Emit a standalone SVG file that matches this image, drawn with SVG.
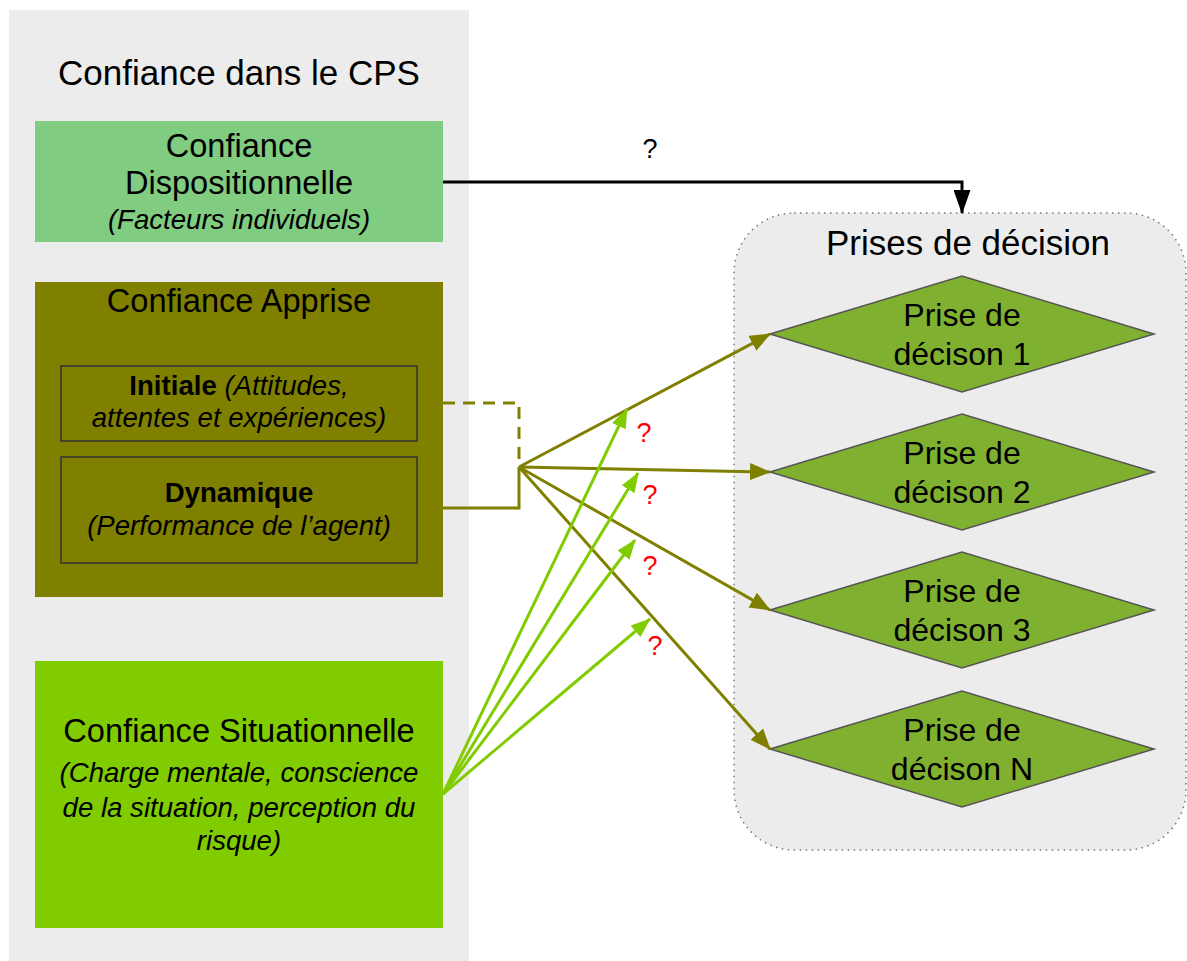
<svg xmlns="http://www.w3.org/2000/svg" width="1187" height="961" viewBox="0 0 1187 961">
<style>
text{font-family:"Liberation Sans",Arial,sans-serif;fill:#000;text-anchor:middle}
.t32{font-size:32px}
.t326{font-size:32.6px}
.t35{font-size:35px}
.it{font-style:italic;font-size:27.6px}
.b{font-weight:bold;font-style:normal}
.q{font-size:27px;fill:#ff0000}
.dia{fill:#7fb030;stroke:#555;stroke-width:1.5}
.olive{stroke:#808000;stroke-width:3;fill:none}
.lime{stroke:#80cc00;stroke-width:3;fill:none}
</style>
<defs>
<marker id="ao" viewBox="0 0 21 17" refX="20" refY="8.5" markerWidth="21" markerHeight="17" markerUnits="userSpaceOnUse" orient="auto"><path d="M0,0 L21,8.5 L0,17 z" fill="#808000"/></marker>
<marker id="ag" viewBox="0 0 20 15" refX="19" refY="7.5" markerWidth="20" markerHeight="15" markerUnits="userSpaceOnUse" orient="auto"><path d="M0,0 L20,7.5 L0,15 z" fill="#80cc00"/></marker>
<marker id="ak" viewBox="0 0 24 17" refX="23" refY="8.5" markerWidth="24" markerHeight="17" markerUnits="userSpaceOnUse" orient="auto"><path d="M0,0 L24,8.5 L0,17 z" fill="#000"/></marker>
</defs>
<g id="panel-cps">
<rect x="9" y="10" width="460" height="951" fill="#ececec"/>
<text class="t35" x="239" y="85">Confiance dans le CPS</text>
</g>
<g id="panel-decision">
<rect x="734" y="213" width="452" height="637" rx="60" ry="60" fill="#ececec" stroke="#777" stroke-width="1.5" stroke-dasharray="1.5 4.5"/>
<text class="t35" x="968" y="255">Prises de décision</text>
</g>
<g id="node-dispositionnelle">
<rect x="35" y="121" width="408" height="121" fill="#80cc80"/>
<text class="t326" x="239" y="157">Confiance</text>
<text class="t326" x="239" y="194">Dispositionnelle</text>
<text class="it" x="239" y="229">(Facteurs individuels)</text>
</g>
<g id="node-apprise">
<rect x="35" y="282" width="408" height="315" fill="#808000"/>
<text class="t326" x="239" y="312">Confiance Apprise</text>
</g>
<g id="node-initiale">
<rect x="61" y="366" width="356" height="75" fill="#808000" stroke="#333" stroke-width="1.5"/>
<text class="it" x="239" y="395"><tspan class="b">Initiale</tspan> (Attitudes,</text>
<text class="it" x="239" y="427">attentes et expériences)</text>
</g>
<g id="node-dynamique">
<rect x="61" y="457" width="356" height="106" fill="#808000" stroke="#333" stroke-width="1.5"/>
<text class="it b" x="239" y="502">Dynamique</text>
<text class="it" x="239" y="535">(Performance de l’agent)</text>
</g>
<g id="node-situationnelle">
<rect x="35" y="661" width="408" height="267" fill="#80cc00"/>
<text class="t326" x="239" y="742">Confiance Situationnelle</text>
<text class="it" x="239" y="782">(Charge mentale, conscience</text>
<text class="it" x="239" y="817">de la situation, perception du</text>
<text class="it" x="239" y="850">risque)</text>
</g>
<g id="node-d1">
<polygon class="dia" points="770,334 962,276 1154,334 962,392"/>
<text class="t32" x="962" y="326">Prise de</text>
<text class="t32" x="962" y="365">décison 1</text>
</g>
<g id="node-d2">
<polygon class="dia" points="770,472 962,414 1154,472 962,530"/>
<text class="t32" x="962" y="464">Prise de</text>
<text class="t32" x="962" y="503">décison 2</text>
</g>
<g id="node-d3">
<polygon class="dia" points="770,610 962,552 1154,610 962,668"/>
<text class="t32" x="962" y="602">Prise de</text>
<text class="t32" x="962" y="641">décison 3</text>
</g>
<g id="node-dn">
<polygon class="dia" points="770,749 962,691 1154,749 962,807"/>
<text class="t32" x="962" y="741">Prise de</text>
<text class="t32" x="962" y="780">décison N</text>
</g>
<g id="connectors">
<path d="M443,182 H962 V213" fill="none" stroke="#000" stroke-width="3" marker-end="url(#ak)"/>
<text x="650" y="158" style="font-size:27px">?</text>
<path class="olive" d="M443,403 H519 V467" stroke-dasharray="12 8"/>
<path class="olive" d="M443,508 H519 V467"/>
<line class="olive" x1="519" y1="467" x2="770" y2="334" marker-end="url(#ao)"/>
<line class="olive" x1="519" y1="467" x2="770" y2="472" marker-end="url(#ao)"/>
<line class="olive" x1="519" y1="467" x2="770" y2="610" marker-end="url(#ao)"/>
<line class="olive" x1="519" y1="467" x2="770" y2="749" marker-end="url(#ao)"/>
<line class="lime" x1="443" y1="794" x2="627" y2="409" marker-end="url(#ag)"/>
<line class="lime" x1="443" y1="794" x2="638" y2="473" marker-end="url(#ag)"/>
<line class="lime" x1="443" y1="794" x2="635" y2="540" marker-end="url(#ag)"/>
<line class="lime" x1="443" y1="794" x2="650" y2="619" marker-end="url(#ag)"/>
<text class="q" x="644" y="442">?</text>
<text class="q" x="650" y="504">?</text>
<text class="q" x="650" y="575">?</text>
<text class="q" x="655" y="655">?</text>
</g>
</svg>
